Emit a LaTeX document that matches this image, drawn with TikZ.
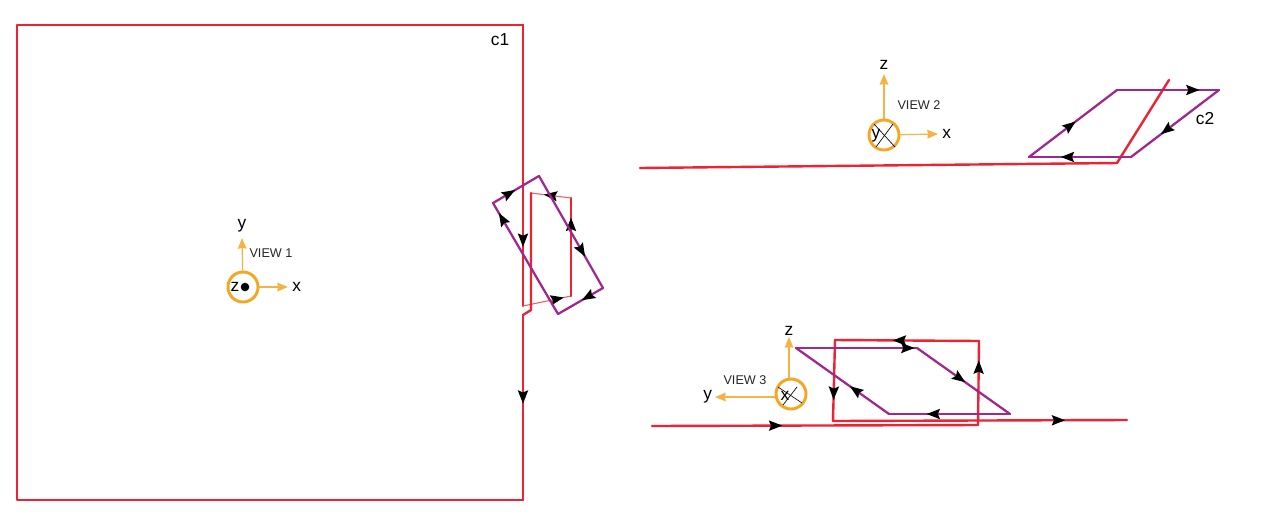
\documentclass[tikz,border=0pt]{standalone}
\usepackage{fontspec}
\setmainfont{Liberation Sans}
\usetikzlibrary{positioning,decorations.markings,arrows.meta}
\definecolor{wirered}{HTML}{EE2233}
\definecolor{loopviolet}{HTML}{A0288C}
\definecolor{axisorange}{HTML}{F5A623}

\begin{document}
\begin{tikzpicture}[x=0.75pt, y=-0.75pt,
        wire/.style={draw=wirered, line width=1.8pt, line cap=round, line join=round},
        thinwire/.style={draw=wirered!75, line width=0.8pt},
        loopline/.style={draw=loopviolet, line width=1.7pt, line cap=round},
        tipat/.style={postaction={decorate}, decoration={markings,
            mark=at position #1 with {\arrow[black]{Stealth[length=10pt, width=7.5pt, inset=1.5pt]}}}},
        axisring/.style={circle, draw=axisorange, line width=2.2pt, minimum size=30*0.75pt, inner sep=0pt},
        axisline/.style={draw=axisorange!85, line width=0.9pt, -{Stealth[length=8pt, width=6.5pt, inset=0.5pt]}},
        crossline/.style={draw=black, line width=0.5pt},
        axlabel/.style={font=\fontsize{13}{13}\selectfont, inner sep=0pt},
        viewlabel/.style={font=\fontsize{9.5}{11}\selectfont, inner sep=0pt, text=black!85}
    ]
        \useasboundingbox (0,0) rectangle (1280,525);

        % view 1
        \coordinate (a1) at (523,25);
        \coordinate (a2) at (523,306);
        \coordinate (a3) at (571,296);
        \coordinate (a4) at (571,198);
        \coordinate (a5) at (531,193);
        \coordinate (a6) at (531,310);
        \coordinate (a7) at (523,315);
        \coordinate (a8) at (523,500);
        \coordinate (a9) at (17,500);
        \coordinate (a10) at (17,25);

        \draw [wire] (a8) -- (a9) -- (a10) -- (a1);
        \draw [wire, tipat=0.79] (a1) -- (a2);
        \draw [thinwire, tipat=0.85] (a2) -- (a3);
        \draw [wire, tipat=0.8] (a3) -- (a4);
        \draw [thinwire, tipat=0.68] (a4) -- (a5);
        \draw [wire] (a5) -- (a6) -- (a7);
        \draw [wire, tipat=0.48] (a7) -- (a8);

        \coordinate (p1) at (493,203);
        \coordinate (p2) at (539,176);
        \coordinate (p3) at (603,288);
        \coordinate (p4) at (558,314);

        \draw [loopline, tipat=0.48] (p1) -- (p2);
        \draw [loopline, tipat=0.72] (p2) -- (p3);
        \draw [loopline, tipat=0.47] (p3) -- (p4);
        \draw [loopline, tipat=0.91] (p4) -- (p1);

        \node [axisring] (ring1) at (243,287) {};
        \fill [black] (245,287) circle (3.2pt);
        \node [axlabel, anchor=center] (z1) at (235,287) {z};
        \coordinate (tipy1) at (242,238);
        \coordinate (tipx1) at (288,287);
        \draw [axisline] (ring1) -- (tipy1);
        \draw [axisline] (ring1) -- (tipx1);
        \node [axlabel, above=4pt of tipy1] (y1) {y};
        \node [axlabel, right=3pt of tipx1] (x1) {x};
        \node [viewlabel] (view1) at (271,253) {VIEW 1};
        \node [axlabel] (c1) at (500,40) {c1};

        % view 2
        \coordinate (b1) at (640,168);
        \coordinate (b2) at (1117,163);
        \coordinate (b3) at (1169,80);
        \draw [wire] (b1) -- (b2) -- (b3);

        \coordinate (q1) at (1029,157);
        \coordinate (q2) at (1117,90);
        \coordinate (q3) at (1219,90);
        \coordinate (q4) at (1131,157);

        \draw [loopline, tipat=0.53] (q1) -- (q2);
        \draw [loopline, tipat=0.81] (q2) -- (q3);
        \draw [loopline, tipat=0.66] (q3) -- (q4);
        \draw [loopline, tipat=0.69] (q4) -- (q1);

        \node [axisring] (ring2) at (884,135) {};
        \node [axlabel] (y2) at (876,136) {y};
        \draw [crossline] (874,124) -- (895,147);
        \draw [crossline] (893,124) -- (876,147);
        \coordinate (tipz2) at (884,74);
        \coordinate (tipx2) at (938,134);
        \draw [axisline] (ring2) -- (tipz2);
        \draw [axisline] (ring2) -- (tipx2);
        \node [axlabel, above=3pt of tipz2] (z2) {z};
        \node [axlabel, right=3pt of tipx2] (x2) {x};
        \node [viewlabel] (view2) at (919,105) {VIEW 2};
        \node [axlabel] (c2) at (1205,119) {c2};

        % view 3
        \coordinate (c1w) at (652,426);
        \coordinate (c2w) at (978,425);
        \coordinate (c3w) at (979,341);
        \coordinate (c4w) at (835,340);
        \coordinate (c5w) at (833,421);
        \coordinate (c6w) at (1127,420);

        \draw [wire, tipat=0.40] (c1w) -- (c2w);
        \draw [wire, tipat=0.77] (c2w) -- (c3w);
        \draw [wire, tipat=0.60] (c3w) -- (c4w);
        \draw [wire, tipat=0.74] (c4w) -- (c5w);
        \draw [wire, tipat=0.79] (c5w) -- (c6w);

        \coordinate (r1) at (796,348);
        \coordinate (r2) at (917,348);
        \coordinate (r3) at (1010,414);
        \coordinate (r4) at (889,414);

        \draw [loopline, tipat=0.98] (r1) -- (r2);
        \draw [loopline, tipat=0.52] (r2) -- (r3);
        \draw [loopline, tipat=0.69] (r3) -- (r4);
        \draw [loopline, tipat=0.42] (r4) -- (r1);

        \node [axisring] (ring3) at (791,394) {};
        \node [axlabel] (x3) at (785,396) {x};
        \draw [crossline] (778,387) -- (802,403);
        \draw [crossline] (797,387) -- (783,405);
        \coordinate (tipz3) at (789,337);
        \coordinate (tipy3) at (715,397);
        \draw [axisline] (ring3.north -| tipz3) -- (tipz3);
        \draw [axisline] (ring3.west |- tipy3) -- (tipy3);
        \node [axlabel, above=1pt of tipz3] (z3) {z};
        \node [axlabel, left=2pt of tipy3] (y3) {y};
        \node [viewlabel] (view3) at (745,380) {VIEW 3};
    \end{tikzpicture}
\end{document}
